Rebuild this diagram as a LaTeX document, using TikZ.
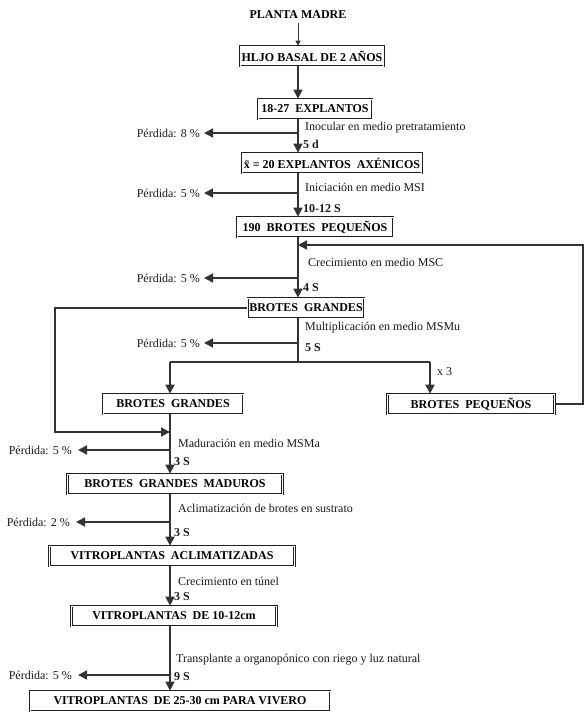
\documentclass[tikz,border=0pt]{standalone}
\usepackage{fontspec}
\setmainfont{Liberation Serif}
\usetikzlibrary{arrows.meta}
\begin{document}
\begin{tikzpicture}[x=1pt,y=-1pt,
  caja/.style={draw=gray!25!black, double, double distance=0.9pt, line width=0.7pt,
    inner sep=1.5pt, minimum height=20pt, font=\fontsize{12}{14}\selectfont\bfseries},
  txt/.style={font=\fontsize{12}{14}\selectfont, text=gray!20!black, inner sep=0pt},
  sem/.style={font=\fontsize{12}{14}\selectfont\bfseries, text=gray!20!black, inner sep=0pt},
  flecha/.style={draw=gray!40!black, line width=1.5pt, -{Triangle[length=9pt,width=9pt]}},
  linea/.style={draw=gray!40!black, line width=1.5pt}]
\useasboundingbox (0,0) rectangle (585,722);
\coordinate (ejeA) at (298,0);
\coordinate (ejeB) at (170,0);
\coordinate (rama) at (298,362);
% cajas
\node[font=\fontsize{12}{14}\selectfont\bfseries] (madre) at (298,15) {PLANTA MADRE};
\node[caja, minimum width=138pt] (hijo) at (312,56) {HLJO BASAL DE 2 AÑOS};
\node[caja, minimum width=114pt] (expl) at (315,109) {18-27\ \ EXPLANTOS};
\node[caja, minimum width=165pt] (axen) at (332,163) {\={x} = 20 EXPLANTOS\ \ AXÉNICOS};
\node[caja, minimum width=156pt] (peq) at (315,227) {190\ \ BROTES\ \ PEQUEÑOS};
\node[caja, minimum width=113pt] (gra) at (306,308) {BROTES\ \ GRANDES};
\node[caja, minimum width=140pt] (graI) at (173,404) {BROTES\ \ GRANDES};
\node[caja, minimum width=167pt] (peqD) at (471,404) {BROTES\ \ PEQUEÑOS};
\node[caja, minimum width=215pt] (madu) at (175,484) {BROTES\ \ GRANDES\ \ MADUROS};
\node[caja, minimum width=245pt] (acli) at (172,556) {VITROPLANTAS\ \ ACLIMATIZADAS};
\node[caja, minimum width=205pt] (v1012) at (174,616) {VITROPLANTAS\ \ DE 10-12cm};
\node[caja, minimum width=300pt] (vivero) at (180,701) {VITROPLANTAS\ \ DE 25-30 cm PARA VIVERO};
% perdidas
\node[txt, anchor=east] (p1) at (200,133) {Pérdida: 8 \%};
\node[txt, anchor=east] (p2) at (200,193) {Pérdida: 5 \%};
\node[txt, anchor=east] (p3) at (200,278) {Pérdida: 5 \%};
\node[txt, anchor=east] (p4) at (200,343) {Pérdida: 5 \%};
\node[txt, anchor=east] (p5) at (72,450) {Pérdida: 5 \%};
\node[txt, anchor=east] (p6) at (70,522) {Pérdida: 2 \%};
\node[txt, anchor=east] (p7) at (72,675) {Pérdida: 5 \%};
% etapas
\node[txt, anchor=west] (d1) at (305,128) {Inocular en medio pretratamiento};
\node[sem, anchor=west] (t1) at (303,144) {5 d};
\node[txt, anchor=west] (d2) at (305,187) {Iniciación en medio MSI};
\node[sem, anchor=west] (t2) at (303,209) {10-12 S};
\node[txt, anchor=west] (d3) at (308,262) {Crecimiento en medio MSC};
\node[sem, anchor=west] (t3) at (303,288) {4 S};
\node[txt, anchor=west] (d4) at (305,328) {Multiplicación en medio MSMu};
\node[sem, anchor=west] (t4) at (305,348) {5 S};
\node[txt, anchor=west] (x3) at (437,372) {x 3};
\node[txt, anchor=west] (d5) at (178,443) {Maduración en medio MSMa};
\node[sem, anchor=west] (t5) at (174,462) {3 S};
\node[txt, anchor=west] (d6) at (178,508) {Aclimatización de brotes en sustrato};
\node[sem, anchor=west] (t6) at (174,533) {3 S};
\node[txt, anchor=west] (d7) at (178,581) {Crecimiento en túnel};
\node[sem, anchor=west] (t7) at (174,597) {3 S};
\node[txt, anchor=west] (d8) at (176,660) {Transplante a organopónico con riego y luz natural};
\node[sem, anchor=west] (t8) at (174,677) {9 S};
% flujo principal
\draw[draw=gray!40!black, line width=0.8pt, -{Triangle[length=5pt,width=5pt]}] (madre.south -| ejeA) -- (hijo.north -| ejeA);
\draw[flecha] (hijo.south -| ejeA) -- (expl.north -| ejeA);
\draw[flecha] (expl.south -| ejeA) -- (axen.north -| ejeA);
\draw[flecha] (axen.south -| ejeA) -- (peq.north -| ejeA);
\draw[flecha] (peq.south -| ejeA) -- (gra.north -| ejeA);
\draw[linea] (gra.south -| ejeA) -- (rama);
\draw[linea] (rama -| ejeB) -- (rama -| 430,0);
\draw[flecha] (rama -| ejeB) -- (graI.north -| ejeB);
\draw[flecha] (rama -| 430,0) -- (peqD.north -| 430,0);
\draw[flecha] (graI.south -| ejeB) -- (madu.north -| ejeB);
\draw[flecha] (madu.south -| ejeB) -- (acli.north -| ejeB);
\draw[flecha] (acli.south -| ejeB) -- (v1012.north -| ejeB);
\draw[flecha] (v1012.south -| ejeB) -- (vivero.north -| ejeB);
% retornos
\draw[flecha] (peqD.east) -- (583,404) -- (583,245) -- (ejeA |- 0,245);
\draw[flecha] (gra.west) -- (55,308) -- (55,432) -- (ejeB |- 0,432);
% perdidas
\draw[flecha] (ejeA |- p1) -- ([xshift=4pt]p1.east);
\draw[flecha] (ejeA |- p2) -- ([xshift=4pt]p2.east);
\draw[flecha] (ejeA |- p3) -- ([xshift=4pt]p3.east);
\draw[flecha] (ejeA |- p4) -- ([xshift=4pt]p4.east);
\draw[flecha] (ejeB |- p5) -- ([xshift=6pt]p5.east);
\draw[flecha] (ejeB |- p6) -- ([xshift=6pt]p6.east);
\draw[flecha] (ejeB |- p7) -- ([xshift=6pt]p7.east);
\end{tikzpicture}
\end{document}
